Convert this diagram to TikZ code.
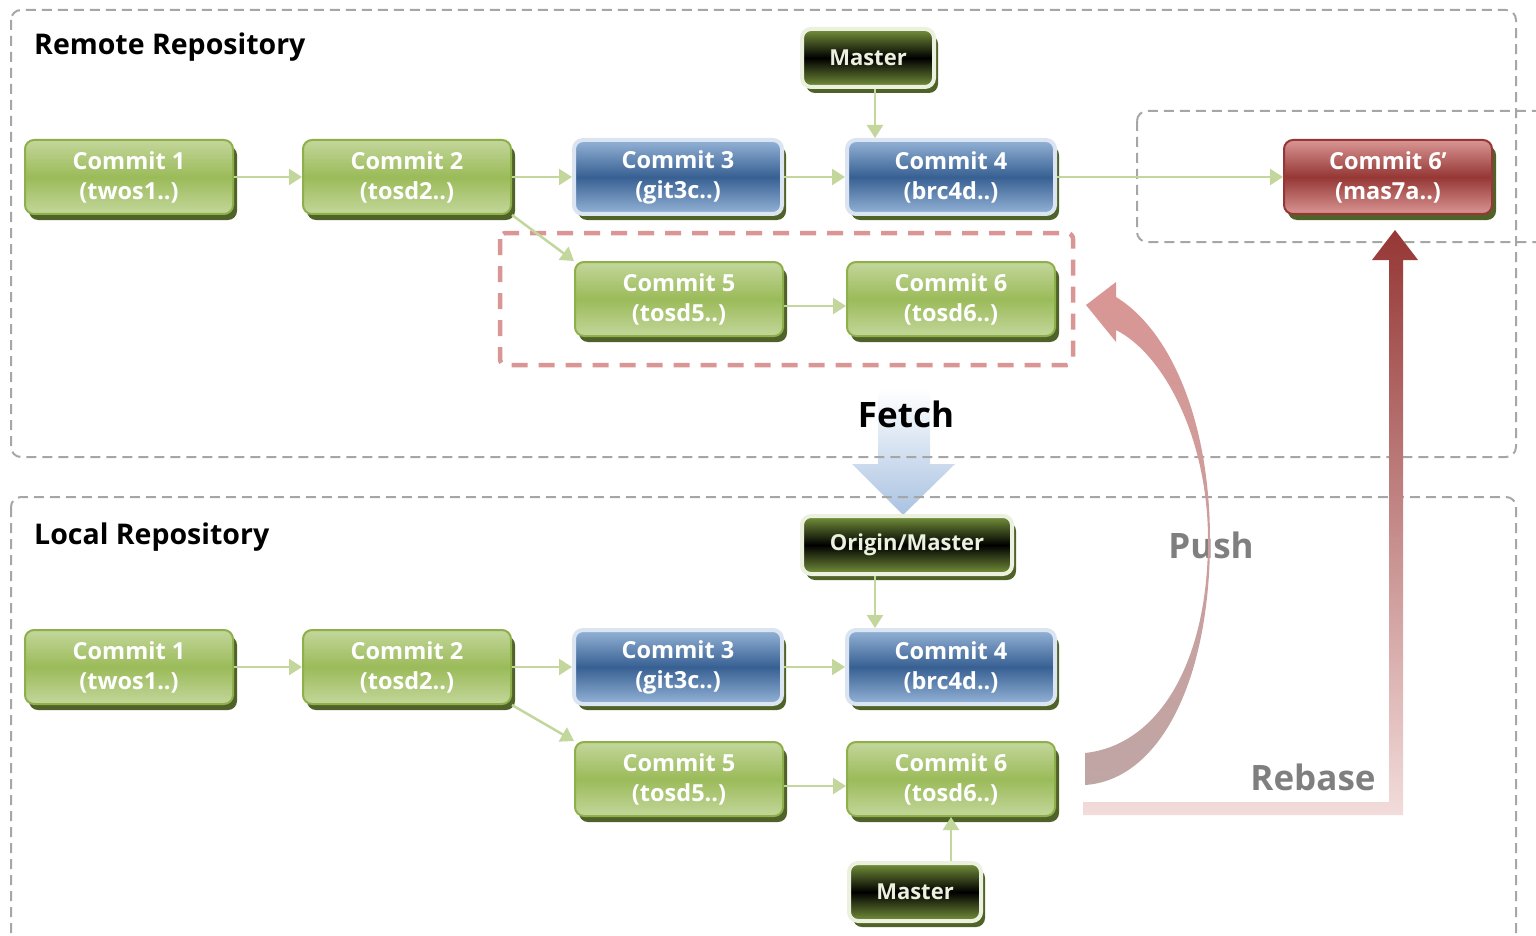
\documentclass[tikz,border=0pt]{standalone}
\usepackage{fontspec}
\setmainfont{Open Sans}
\usetikzlibrary{shadows,arrows.meta}
\definecolor{greenL}{HTML}{C3D69B}
\definecolor{greenM}{HTML}{9BBB59}
\definecolor{greenB}{HTML}{8DB04A}
\definecolor{shadowc}{HTML}{4F6228}
\definecolor{blueL}{HTML}{95B3D7}
\definecolor{blueM}{HTML}{376092}
\definecolor{blueB}{HTML}{DBE5F1}
\definecolor{redL}{HTML}{D99694}
\definecolor{redM}{HTML}{953735}
\definecolor{masterL}{HTML}{77933C}
\definecolor{masterB}{HTML}{EBF1DE}
\definecolor{connc}{HTML}{C3D69B}
\definecolor{boxgray}{HTML}{A6A6A6}
\definecolor{labelgray}{HTML}{7F7F7F}
\definecolor{pushB}{HTML}{BFA6A5}
\definecolor{rebaseL}{HTML}{F2DCDB}
\definecolor{fetchL}{HTML}{A9C2E1}
\begin{document}
\begin{tikzpicture}[x=1pt,y=-1pt,
  commit/.style={rounded corners=9pt, minimum width=208pt, minimum height=74pt,
    align=center, text=white, inner sep=0pt,
    font=\fontsize{23.5}{30}\selectfont\bfseries,
    execute at begin node={\rule{0pt}{27pt}},
    general shadow={fill=shadowc, shadow xshift=4pt, shadow yshift=-6pt}},
  greenc/.style={commit, top color=greenL, bottom color=greenL, middle color=greenM, draw=greenB, line width=2pt},
  bluec/.style={commit, top color=blueL, bottom color=blueL, middle color=blueM, draw=blueB, line width=4pt},
  redc/.style={commit, top color=redL, bottom color=redL, middle color=redM, draw=redM, line width=2pt},
  masterc/.style={rounded corners=9pt, minimum height=58pt, inner sep=0pt,
    text=masterB, font=\fontsize{22}{28}\selectfont\bfseries,
    top color=masterL, bottom color=masterL, middle color=black, draw=masterB, line width=4pt,
    general shadow={fill=shadowc, shadow xshift=4pt, shadow yshift=-6pt}},
  conn/.style={draw=connc, line width=2.5pt, -{Triangle[length=13pt,width=16pt]}},
  gbox/.style={draw=boxgray, line width=2pt, dash pattern=on 10pt off 6pt, rounded corners=10pt},
  rbox/.style={draw=redL, line width=4.5pt, dash pattern=on 16pt off 11pt, rounded corners=6pt},
  heading/.style={anchor=base west, inner sep=0pt, font=\fontsize{28.5}{32}\selectfont\bfseries},
  biglabel/.style={anchor=base, inner sep=0pt, font=\fontsize{35}{40}\selectfont\bfseries}
]
\useasboundingbox (0,0) rectangle (1536,936);
\clip (0,0) rectangle (1536,936);

% fetch arrow
\shade[top color=white, bottom color=fetchL]
  (878,388) -- (930,388) -- (930,464) -- (955,464) -- (903,515) -- (852,464) -- (878,464) -- cycle;

% dashed frames
\draw[gbox] (11,10) rectangle (1516,457);
\draw[gbox] (11,497) rectangle (1516,980);
\draw[gbox] (1137,111) rectangle (1580,242);
\draw[rbox] (500,233) rectangle (1073,365);

% labels
\node[heading] (hremote) at (34,55) {Remote Repository};
\node[heading] (hlocal) at (34,544) {Local Repository};
\node[biglabel] (lfetch) at (906,427) {Fetch};
\node[biglabel, text=labelgray] (lpush) at (1211,558) {Push};
\node[biglabel, text=labelgray] (lrebase) at (1313,790) {Rebase};

% rebase arrow
\shade[top color=redM, bottom color=rebaseL]
  (1395,230) -- (1418,260) -- (1403,260) -- (1403,815) -- (1083,815) -- (1083,802)
  -- (1389,802) -- (1389,260) -- (1372,260) -- cycle;

% push arrow
\shade[top color=redL, middle color=redL, bottom color=pushB]
  (1085,785) .. controls (1160,780) and (1210,680) .. (1210,540)
  .. controls (1210,420) and (1170,330) .. (1116,297)
  -- (1116,282) -- (1086,305) -- (1116,342) -- (1116,330)
  .. controls (1165,355) and (1208,440) .. (1208,540)
  .. controls (1208,660) and (1160,745) .. (1085,753)
  -- cycle;

% remote nodes
\node[masterc, minimum width=132pt] (m1) at (868,58) {Master};
\node[greenc] (r1) at (129,177) {Commit 1\\(twos1..)};
\node[greenc] (r2) at (407,177) {Commit 2\\(tosd2..)};
\node[bluec] (r3) at (678,177) {Commit 3\\(git3c..)};
\node[bluec] (r4) at (951,177) {Commit 4\\(brc4d..)};
\node[redc] (r6p) at (1388,177) {Commit 6’\\(mas7a..)};
\node[greenc] (r5) at (679,299) {Commit 5\\(tosd5..)};
\node[greenc] (r6) at (951,299) {Commit 6\\(tosd6..)};

% local nodes
\node[masterc, minimum width=210pt] (om) at (907,545) {Origin/Master};
\node[greenc] (l1) at (129,667) {Commit 1\\(twos1..)};
\node[greenc] (l2) at (407,667) {Commit 2\\(tosd2..)};
\node[bluec] (l3) at (678,667) {Commit 3\\(git3c..)};
\node[bluec] (l4) at (951,667) {Commit 4\\(brc4d..)};
\node[greenc] (l5) at (679,779) {Commit 5\\(tosd5..)};
\node[greenc] (l6) at (951,779) {Commit 6\\(tosd6..)};
\node[masterc, minimum width=132pt] (ml) at (915,892) {Master};

\coordinate (mx) at (875,0);

% connectors remote
\draw[conn] (r1) -- (r2);
\draw[conn] (r2) -- (r3);
\draw[conn] (r3) -- (r4);
\draw[conn] (r4) -- (r6p);
\draw[conn] (r2.south east) -- (r5.north west);
\draw[conn] ([yshift=-7pt]r5.east) -- ([yshift=-7pt]r6.west);
\draw[conn] (m1.south -| mx) -- (r4.north -| mx);

% connectors local
\draw[conn] (l1) -- (l2);
\draw[conn] (l2) -- (l3);
\draw[conn] (l3) -- (l4);
\draw[conn] (l2.south east) -- (l5.north west);
\draw[conn] ([yshift=-7pt]l5.east) -- ([yshift=-7pt]l6.west);
\draw[conn] (om.south -| mx) -- (l4.north -| mx);
\draw[conn] (ml.north -| l6.south) -- (l6.south);
\end{tikzpicture}
\end{document}
